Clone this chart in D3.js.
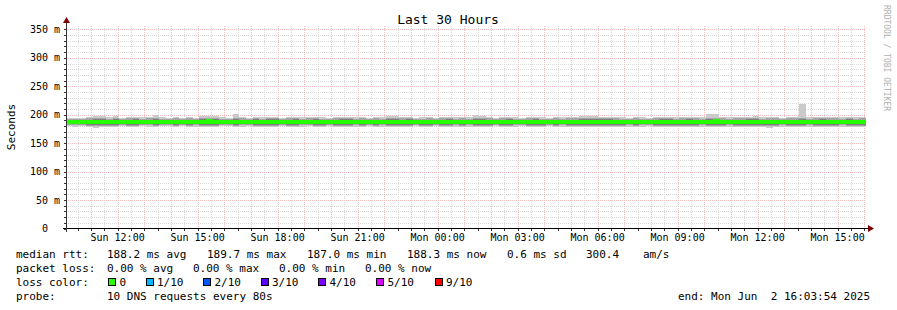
<!DOCTYPE html>
<html><head><meta charset="utf-8">
<script src="https://cdn.jsdelivr.net/npm/d3@7/dist/d3.min.js"></script>
<style>
body{margin:0;background:#fff;}
svg text{font-family:"DejaVu Sans Mono",monospace;white-space:pre;fill:#000;}
</style></head><body>
<svg id="c" width="897" height="310"></svg>
<script>
// ---------------- DATA ----------------
const title = "Last 30 Hours";
const yLabel = "Seconds";
const startTime = new Date(2025, 5, 1, 10, 3, 54);
const endTime = new Date(2025, 5, 2, 16, 3, 54);
const binMinutes = 15;
const yTicks = [0, 50, 100, 150, 200, 250, 300, 350];

// median rtt per 15-minute bin (ms)
const median = [
187.2,187.0,187.4,187.3,187.1,187.6,187.2,187.5,187.0,187.3,
187.4,187.2,187.6,187.5,187.1,187.3,187.2,187.4,187.0,187.3,
187.5,187.8,187.3,187.2,187.4,187.6,187.1,187.3,187.5,187.2,
187.4,187.3,187.0,187.2,187.5,187.3,187.1,187.4,187.6,187.2,
187.3,187.5,187.2,187.4,187.1,187.3,187.6,187.2,187.5,187.3,
187.0,187.2,187.4,187.3,187.5,187.2,187.1,187.4,187.3,187.6,
187.2,187.5,187.3,187.1,187.4,187.2,187.3,187.5,187.0,187.2,
187.4,187.3,187.6,187.2,187.1,187.5,187.3,187.4,187.2,187.6,
187.3,187.1,187.4,187.2,187.5,187.3,187.0,187.4,187.6,187.2,
187.3,187.5,187.2,187.1,187.4,187.3,187.6,187.8,187.2,187.4,
187.3,187.1,187.5,187.4,187.2,187.3,187.6,187.2,187.4,187.1,
187.5,187.3,187.2,187.4,187.6,187.3,187.1,187.4,187.2,187.5];

// sorted pings per bin (ms): ping1 = fastest ... ping10 = slowest
const ping1 = [
179.6,179.3,179.9,178.6,177.2,177.7,179.1,178.3,179.5,179.1,
178.9,179.6,179.3,178.1,179.4,179.7,179.0,179.5,179.1,179.3,
177.9,178.3,178.7,179.4,179.6,178.1,179.3,179.5,178.6,179.2,
178.5,178.7,179.6,179.1,178.4,179.3,179.5,178.7,179.1,179.4,
179.0,178.4,178.6,179.3,179.1,179.6,178.9,179.2,178.1,178.4,
179.1,178.6,179.4,179.2,178.9,179.6,179.1,178.5,179.3,179.0,
179.2,178.1,178.5,179.1,179.5,178.8,178.6,179.2,179.4,179.0,
178.6,179.1,179.4,178.9,179.3,179.1,179.0,177.9,178.3,178.1,
178.5,178.4,178.7,179.1,179.3,178.8,179.2,179.4,178.9,178.7,
178.6,179.1,178.9,178.5,179.1,179.3,178.1,178.4,179.1,179.2,
179.0,179.1,178.7,178.3,177.6,177.3,178.9,179.3,179.0,179.1,
178.1,179.2,179.0,178.7,178.9,179.1,179.3,178.6,179.1,178.9];
const ping2 = [
181.3,181.1,181.5,180.6,179.6,180.1,180.9,180.4,181.3,180.9,
180.7,181.3,181.1,180.2,181.2,181.4,180.8,181.3,181.0,181.1,
179.9,180.3,180.6,181.2,181.3,180.1,181.1,181.3,180.5,181.0,
180.5,180.6,181.3,180.9,180.4,181.1,181.3,180.6,181.0,181.2,
180.9,180.4,180.5,181.1,181.0,181.3,180.7,181.1,180.1,180.4,
181.0,180.5,181.2,181.0,180.7,181.3,181.0,180.4,181.1,180.9,
181.1,180.2,180.5,181.0,181.3,180.6,180.5,181.1,181.2,180.9,
180.5,181.0,181.2,180.7,181.1,181.0,180.9,179.9,180.3,180.1,
180.4,180.3,180.6,181.0,181.1,180.6,181.1,181.2,180.7,180.6,
180.5,181.0,180.7,180.4,181.0,181.1,180.2,180.4,181.0,181.1,
180.9,181.0,180.6,180.3,179.7,179.4,180.7,181.1,180.9,181.0,
180.2,181.1,180.9,180.6,180.7,180.9,181.1,180.5,180.9,180.7];
const ping3 = [
183.1,182.9,183.3,182.6,181.5,181.9,182.8,182.3,183.1,182.8,
182.6,183.1,182.9,182.2,183.0,183.2,182.7,183.1,182.8,182.9,
181.9,182.2,182.5,183.0,183.1,182.1,182.9,183.1,182.4,182.8,
182.4,182.5,183.1,182.7,182.3,182.9,183.1,182.5,182.8,183.0,
182.7,182.3,182.4,182.9,182.8,183.1,182.5,182.9,182.1,182.3,
182.8,182.4,183.0,182.8,182.5,183.1,182.8,182.3,182.9,182.7,
182.9,182.1,182.4,182.8,183.1,182.5,182.4,182.9,183.0,182.7,
182.4,182.8,183.0,182.5,182.9,182.8,182.7,181.7,182.0,181.9,
182.2,182.1,182.4,182.8,182.9,182.5,182.9,183.0,182.5,182.4,
182.3,182.8,182.5,182.2,182.8,182.9,182.0,182.2,182.8,182.9,
182.7,182.8,182.4,182.1,181.6,181.4,182.5,182.9,182.7,182.8,
182.1,182.9,182.7,182.4,182.5,182.8,182.9,182.3,182.8,182.6];
const ping4 = [
185.6,185.4,185.8,185.3,184.5,184.9,185.4,185.0,185.6,185.4,
185.3,185.6,185.5,185.0,185.5,185.7,185.3,185.6,185.3,185.5,
184.8,185.1,185.2,185.5,185.6,184.9,185.4,185.6,185.1,185.4,
185.1,185.2,185.6,185.3,185.0,185.4,185.6,185.2,185.4,185.5,
185.3,185.0,185.1,185.4,185.3,185.6,185.2,185.4,184.9,185.0,
185.3,185.1,185.5,185.3,185.2,185.6,185.3,185.0,185.4,185.3,
185.4,184.9,185.1,185.3,185.6,185.2,185.1,185.4,185.5,185.3,
185.1,185.3,185.5,185.2,185.4,185.3,185.3,184.6,184.8,184.7,
185.0,184.9,185.1,185.3,185.4,185.2,185.4,185.5,185.2,185.1,
185.0,185.3,185.2,185.0,185.3,185.4,184.8,185.0,185.3,185.4,
185.3,185.3,185.1,184.9,184.5,184.3,185.2,185.4,185.3,185.3,
184.9,185.4,185.3,185.1,185.2,185.3,185.4,185.0,185.3,185.2];
const ping5 = [
186.8,186.6,187.0,186.9,186.5,187.0,186.8,187.0,186.6,186.9,
187.0,186.8,187.2,187.1,186.7,186.9,186.8,187.0,186.6,186.9,
187.0,187.3,186.9,186.8,187.0,187.1,186.7,186.9,187.1,186.8,
187.0,186.9,186.6,186.8,187.1,186.9,186.7,187.0,187.2,186.8,
186.9,187.1,186.8,187.0,186.7,186.9,187.2,186.8,187.0,186.9,
186.6,186.8,187.0,186.9,187.1,186.8,186.7,187.0,186.9,187.2,
186.8,187.0,186.9,186.7,187.0,186.8,186.9,187.1,186.6,186.8,
187.0,186.9,187.2,186.8,186.7,187.1,186.9,187.0,186.8,187.1,
186.9,186.7,187.0,186.8,187.1,186.9,186.6,187.0,187.2,186.8,
186.9,187.1,186.8,186.7,187.0,186.9,187.2,187.3,186.8,187.0,
186.9,186.7,187.1,187.0,186.8,186.9,187.2,186.8,187.0,186.7,
187.1,186.9,186.8,187.0,187.2,186.9,186.7,187.0,186.8,187.1];
const ping6 = [
187.6,187.4,187.8,187.7,187.7,188.2,187.6,188.0,187.4,187.7,
187.8,187.6,188.0,187.9,187.5,187.7,187.6,187.8,187.4,187.7,
188.0,188.3,187.7,187.6,187.8,188.1,187.5,187.7,187.9,187.6,
187.8,187.7,187.4,187.6,187.9,187.7,187.5,187.8,188.0,187.6,
187.7,187.9,187.6,187.8,187.5,187.7,188.0,187.6,188.0,187.7,
187.4,187.6,187.8,187.7,187.9,187.6,187.5,187.8,187.7,188.0,
187.6,188.0,187.7,187.5,187.8,187.6,187.7,187.9,187.4,187.6,
187.8,187.7,188.0,187.6,187.5,187.9,187.7,187.8,187.6,188.1,
187.7,187.5,187.8,187.6,187.9,187.7,187.4,187.8,188.0,187.6,
187.7,187.9,187.6,187.5,187.8,187.7,188.0,188.3,187.6,187.8,
187.7,187.5,187.9,187.8,187.6,187.7,188.0,187.6,187.8,187.5,
187.9,187.7,187.6,187.8,188.0,187.7,187.5,187.8,187.6,187.9];
const ping7 = [
189.2,189.0,189.4,189.5,190.2,190.0,189.3,190.3,189.1,189.4,
189.8,189.2,189.5,190.8,189.2,189.1,189.4,189.2,189.3,189.2,
190.2,190.5,190.0,189.3,189.2,190.8,189.3,189.1,189.7,189.3,
189.8,189.7,189.1,189.3,189.8,189.2,189.3,189.9,189.4,189.1,
189.4,189.9,189.7,189.2,189.3,189.1,189.4,189.3,190.4,190.2,
189.3,189.8,189.1,189.3,189.5,189.0,189.3,189.7,189.2,189.5,
189.3,190.5,190.3,189.3,189.1,189.4,189.8,189.3,189.1,189.3,
189.7,189.3,189.2,189.4,189.2,189.3,189.4,190.2,190.4,190.1,
189.7,189.8,189.6,189.3,189.2,189.5,189.2,189.1,189.4,189.6,
189.6,189.3,189.4,189.7,189.3,189.2,190.8,190.6,189.4,189.3,
189.4,189.3,189.6,190.3,189.3,189.5,189.4,189.1,189.4,189.3,
190.0,189.3,189.4,189.7,189.4,189.3,189.2,189.8,189.3,189.5];
const ping8 = [
191.1,191.2,190.9,191.5,192.2,192.0,191.3,192.3,191.0,191.4,
191.8,191.3,191.6,192.5,191.2,191.0,191.5,191.1,191.3,191.2,
192.2,192.4,192.0,191.3,191.1,192.6,191.3,191.0,191.7,191.3,
191.8,191.7,191.0,191.4,191.8,191.2,191.3,191.9,191.3,191.1,
191.5,191.9,191.7,191.2,191.3,191.0,191.4,191.2,192.4,192.1,
191.4,191.8,191.1,191.3,191.6,190.9,191.3,191.7,191.2,191.5,
191.3,192.5,192.2,191.3,191.0,191.5,191.8,191.3,191.1,191.4,
191.7,191.3,191.1,191.5,191.2,191.3,191.4,192.2,192.4,192.0,
191.7,191.8,191.6,191.3,191.1,191.6,191.2,191.0,191.4,191.7,
191.7,191.3,191.5,191.8,191.3,191.2,192.8,192.5,191.4,191.2,
191.5,191.3,191.7,192.3,191.2,191.6,191.4,191.0,191.5,191.3,
192.9,191.2,191.4,191.8,191.5,191.3,191.1,191.8,191.2,191.5];
const ping9 = [
193.0,193.2,192.8,193.4,194.3,194.0,193.3,194.4,193.1,193.5,
193.8,193.2,193.6,194.6,193.3,193.0,193.7,192.9,193.4,193.2,
194.2,194.5,194.0,193.3,193.0,194.8,193.4,193.1,193.8,193.3,
193.9,193.8,193.0,193.5,193.9,193.2,193.4,194.0,193.3,193.1,
193.6,194.0,193.8,193.2,193.4,193.0,193.5,193.3,194.5,194.2,
193.5,193.9,193.1,193.3,193.7,192.9,193.4,193.8,193.2,193.5,
193.3,194.6,194.3,193.4,193.0,193.6,193.9,193.3,193.1,193.5,
193.8,193.3,193.0,193.7,193.2,193.4,193.5,194.3,194.5,194.1,
193.8,193.9,193.7,193.3,193.1,193.8,193.3,193.0,193.5,193.8,
193.9,193.3,193.6,193.9,193.4,193.2,194.9,194.6,193.5,193.3,
193.6,193.4,193.8,194.4,193.3,193.7,193.5,193.1,193.6,193.4,
195.0,193.3,193.5,193.9,193.6,193.4,193.2,193.9,193.3,193.6];
const ping10 = [
194.8,195.1,194.6,195.3,198.0,197.8,195.5,198.2,194.9,195.4,
196.5,195.2,195.6,200.0,195.3,195.0,195.7,194.8,195.5,195.1,
198.2,198.5,197.8,195.3,194.9,201.5,195.4,195.1,196.4,195.3,
196.4,196.2,195.0,195.5,196.5,195.2,195.4,196.7,195.3,195.1,
195.6,196.8,196.4,195.2,195.4,195.0,195.5,195.3,198.6,198.2,
195.5,196.6,195.1,195.3,195.7,194.9,195.4,196.2,195.2,195.5,
195.3,198.8,198.4,195.4,195.0,195.6,196.5,195.3,195.1,195.5,
196.3,195.3,195.0,195.7,195.2,195.4,195.5,197.8,198.2,197.6,
196.2,196.4,196.1,195.3,195.1,195.9,195.3,195.0,195.5,195.8,
196.0,195.3,195.6,196.2,195.4,195.2,201.5,200.8,195.5,195.3,
195.6,195.4,195.8,198.3,195.3,195.7,195.5,195.1,195.6,195.4,
219.0,195.3,195.5,196.2,195.6,195.4,195.2,196.4,195.3,195.6];

const lossLabels = ["0", "1/10", "2/10", "3/10", "4/10", "5/10", "9/10"];
const lossColors = ["#26ff00", "#00b8ff", "#0059ff", "#5e00ff", "#7e00ff", "#dd00ff", "#ff0000"];
const rttStats = ["188.2 ms avg", "189.7 ms max", "187.0 ms min", "188.3 ms now", "0.6 ms sd", "300.4", "am/s"];
const lossStats = ["0.00 % avg", "0.00 % max", "0.00 % min", "0.00 % now"];
const probeText = "10 DNS requests every 80s";
const endText = "end: Mon Jun  2 16:03:54 2025";
const credit = "RRDTOOL / TOBI OETIKER";

// ---------------- CHART ----------------
const svg = d3.select("#c");
svg.append("rect").attr("width", 897).attr("height", 310).attr("fill", "#fff");

const X0 = 66, X1 = 866, YB = 228.5, YT = 26;
const x = d3.scaleTime().domain([startTime, endTime]).range([X0, X1]);
const y = d3.scaleLinear().domain([0, 356]).range([YB, YT]);

const pings = [ping1, ping2, ping3, ping4, ping5, ping6, ping7, ping8, ping9, ping10];
const bins = median.map((m, i) => {
  const t0 = new Date(+startTime + i * binMinutes * 60000);
  const t1 = new Date(+startTime + (i + 1) * binMinutes * 60000);
  return {t0, t1, m, p: pings.map(a => a[i])};
});

// grid
const GRID = "#d8d8d8", MGRID = "#f4bebe";
const grid = svg.append("g").attr("shape-rendering", "crispEdges");
const minorY = d3.range(10, 356, 10).filter(v => v % 50 !== 0);
grid.selectAll(".gy").data(minorY).join("line")
  .attr("x1", X0).attr("x2", X1).attr("y1", d => Math.round(y(d)) + 0.5).attr("y2", d => Math.round(y(d)) + 0.5)
  .attr("stroke", GRID).attr("stroke-dasharray", "1,1");
const halfHours = d3.timeMinute.every(30).range(startTime, endTime);
grid.selectAll(".gx").data(halfHours.filter(d => d.getMinutes() !== 0)).join("line")
  .attr("x1", d => Math.round(x(d)) + 0.5).attr("x2", d => Math.round(x(d)) + 0.5).attr("y1", YT).attr("y2", YB)
  .attr("stroke", GRID).attr("stroke-dasharray", "1,1");
grid.selectAll(".mx").data(halfHours.filter(d => d.getMinutes() === 0)).join("line")
  .attr("x1", d => Math.round(x(d)) + 0.5).attr("x2", d => Math.round(x(d)) + 0.5).attr("y1", YT).attr("y2", YB)
  .attr("stroke", MGRID).attr("stroke-dasharray", "1,1");
grid.selectAll(".my").data(yTicks.filter(v => v > 0)).join("line")
  .attr("x1", X0).attr("x2", X1).attr("y1", d => Math.round(y(d)) + 0.5).attr("y2", d => Math.round(y(d)) + 0.5)
  .attr("stroke", MGRID).attr("stroke-dasharray", "1,1");

// smoke
const smokeGrays = [202, 164, 126, 88, 50];
const smoke = svg.append("g").attr("shape-rendering", "crispEdges");
for (let k = 0; k < 5; k++) {
  const g = smokeGrays[k];
  smoke.selectAll(".s" + k).data(bins).join("rect")
    .attr("x", d => x(d.t0)).attr("width", d => x(d.t1) - x(d.t0))
    .attr("y", d => y(d.p[9 - k])).attr("height", d => y(d.p[k]) - y(d.p[9 - k]))
    .attr("fill", d3.rgb(g, g, g));
}
// median band (loss 0 colour)
const medHalf = 2.2;
svg.append("g").attr("shape-rendering", "crispEdges").selectAll("rect").data(bins).join("rect")
  .attr("x", d => x(d.t0)).attr("width", d => x(d.t1) - x(d.t0))
  .attr("y", d => y(d.m) - medHalf).attr("height", medHalf * 2)
  .attr("fill", lossColors[0]);

// axes
const ax = svg.append("g").attr("shape-rendering", "crispEdges");
ax.append("line").attr("x1", X0 - 3).attr("x2", X1 + 3).attr("y1", YB).attr("y2", YB).attr("stroke", "#000");
ax.append("line").attr("x1", X0 + 0.5).attr("x2", X0 + 0.5).attr("y1", YB + 3).attr("y2", YT - 4).attr("stroke", "#333");
ax.selectAll(".ty").data(d3.range(0, 356, 10)).join("line")
  .attr("x1", X0 - 2).attr("x2", X0).attr("y1", d => Math.round(y(d)) + 0.5).attr("y2", d => Math.round(y(d)) + 0.5)
  .attr("stroke", "#333");
ax.selectAll(".tx").data(halfHours).join("line")
  .attr("x1", d => Math.round(x(d)) + 0.5).attr("x2", d => Math.round(x(d)) + 0.5).attr("y1", YB).attr("y2", YB + 2)
  .attr("stroke", "#333");
svg.append("path").attr("d", `M${X1 + 2},${YB - 3.5} L${X1 + 8},${YB} L${X1 + 2},${YB + 3.5} Z`).attr("fill", "#7f0000");
svg.append("path").attr("d", `M${X0 - 3},${YT - 3} L${X0 + 0.5},${YT - 9} L${X0 + 4},${YT - 3} Z`).attr("fill", "#7f0000");

// y tick labels
svg.selectAll(".yl").data(yTicks).join("text")
  .attr("x", 60).attr("y", d => y(d)).attr("dy", "0.35em").attr("text-anchor", "end")
  .style("font-size", "10px").text(d => d === 0 ? "0  " : d + " m");
// x tick labels
const fmt = d3.timeFormat("%a %H:%M");
svg.selectAll(".xl").data(d3.timeHour.every(3).range(startTime, endTime)).join("text")
  .attr("x", d => x(d)).attr("y", 241).attr("text-anchor", "middle")
  .style("font-size", "10px").text(d => fmt(d));

// title / labels
svg.append("text").attr("x", 448).attr("y", 24).attr("text-anchor", "middle").style("font-size", "13px").text(title);
svg.append("text").attr("transform", "translate(15,127) rotate(-90)").attr("text-anchor", "middle").style("font-size", "11px").text(yLabel);
svg.append("text").attr("transform", "translate(884,5) rotate(90)").style("font-size", "8px").style("fill", "#b0b0b0").text(credit);

// legend
const L = svg.append("g").style("font-size", "11px");
const row = [258, 272, 286, 300];
L.append("text").attr("x", 16).attr("y", row[0]).text("median rtt:");
const rttX = [107, 207, 307, 407, 507, 586, 643];
rttStats.forEach((s, i) => L.append("text").attr("x", rttX[i]).attr("y", row[0]).text(s));
L.append("text").attr("x", 16).attr("y", row[1]).text("packet loss:");
const lossX = [107, 193, 279, 365];
lossStats.forEach((s, i) => L.append("text").attr("x", lossX[i]).attr("y", row[1]).text(s));
L.append("text").attr("x", 16).attr("y", row[2]).text("loss color:");
const boxX = [108, 145.5, 203, 260.5, 318, 376, 434.5];
lossLabels.forEach((s, i) => {
  L.append("rect").attr("x", boxX[i] + 0.5).attr("y", 278.5).attr("width", 7).attr("height", 7)
    .attr("fill", lossColors[i]).attr("stroke", "#000").attr("stroke-width", 1).attr("shape-rendering", "crispEdges");
  L.append("text").attr("x", boxX[i] + 11.5).attr("y", row[2]).text(s);
});
L.append("text").attr("x", 16).attr("y", row[3]).text("probe:");
L.append("text").attr("x", 107).attr("y", row[3]).text(probeText);
L.append("text").attr("x", 678).attr("y", row[3]).text(endText);
</script>
</body></html>
